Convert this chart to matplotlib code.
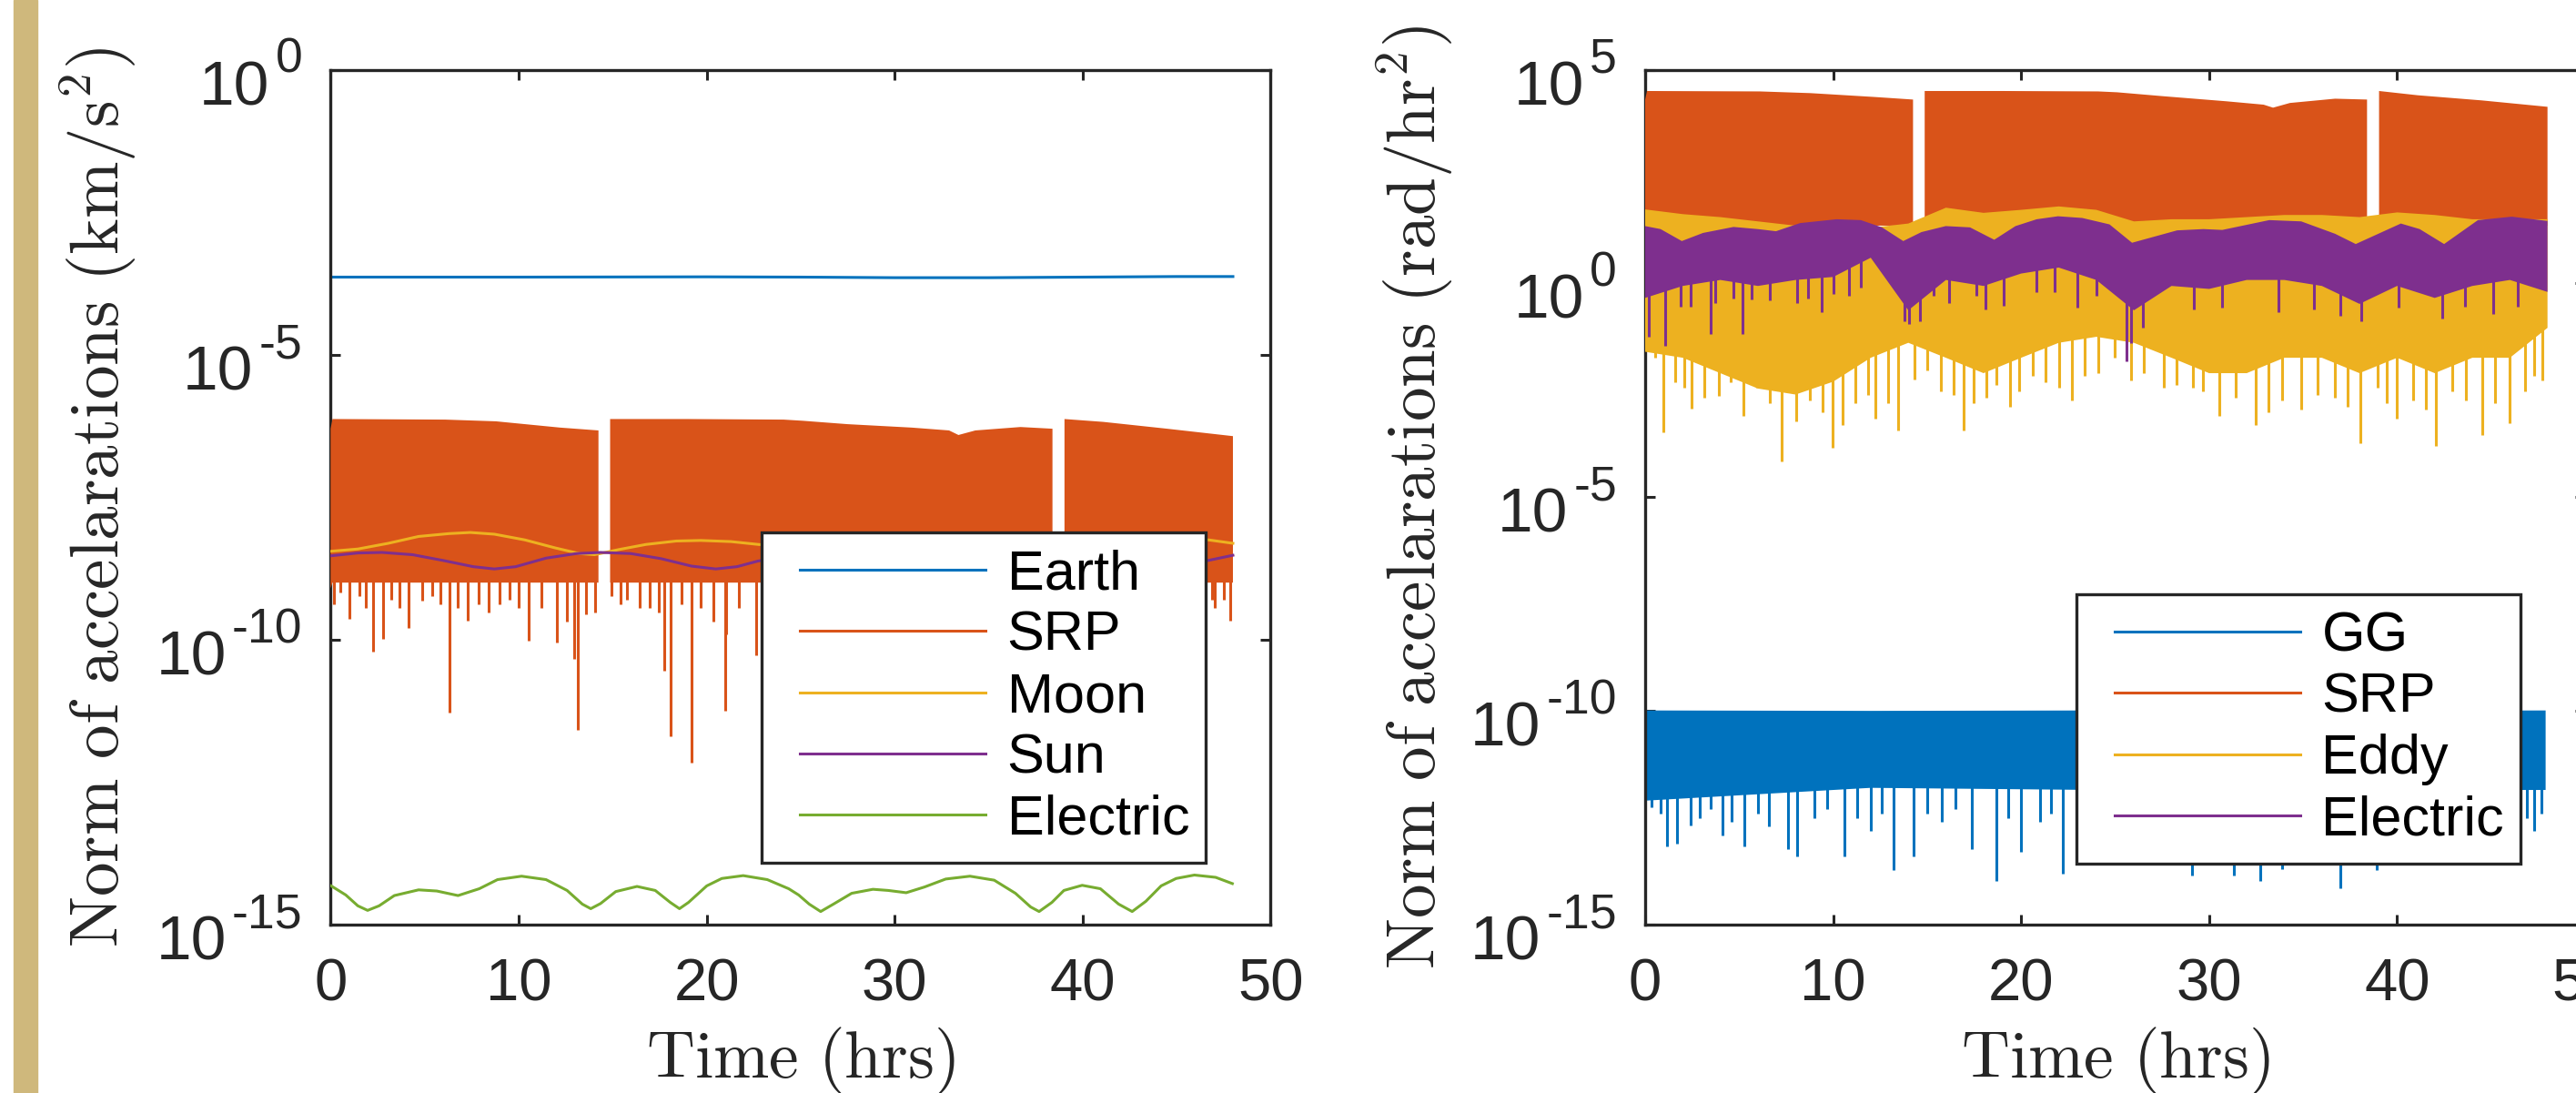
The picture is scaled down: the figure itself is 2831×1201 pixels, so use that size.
import numpy as np
import matplotlib
matplotlib.use("Agg")
import matplotlib.pyplot as plt
from matplotlib.lines import Line2D
from matplotlib.patches import Rectangle
from matplotlib.ticker import FixedLocator, NullFormatter, NullLocator
from matplotlib.legend_handler import HandlerLine2D
from matplotlib.transforms import blended_transform_factory, offset_copy

plt.rcParams['font.family'] = ['Liberation Sans', 'DejaVu Sans']
plt.rcParams['mathtext.fontset'] = 'custom'
plt.rcParams['mathtext.rm'] = 'Liberation Sans'
plt.rcParams['mathtext.it'] = 'Liberation Sans:italic'
plt.rcParams['mathtext.bf'] = 'Liberation Sans:bold'

C_BLUE, C_ORANGE, C_YELLOW, C_PURPLE, C_GREEN = '#0072BD', '#D95319', '#EDB120', '#7E2F8E', '#77AC30'
DARK = '#262626'
nan = np.nan

# ---------------- data (values are log10 of the plotted magnitude) ----------------
# Left panel: translational accelerations (km/s^2)
earth_t = [0, 10, 20, 25, 30, 35, 40, 45, 48]
earth_v = [-3.64, -3.64, -3.635, -3.64, -3.65, -3.65, -3.64, -3.63, -3.63]

srp_t  = [0, 0.1, 6.1, 8.8, 12.2, 14.25, nan, 14.87, 19.0, 24.1, 25.1, 27.5, 30.9, 32.9, 33.4, 34.3, 36.7, 38.4, nan, 39.04, 41.1, 44.5, 48.0]
srp_l_up = [-6.30, -6.13, -6.14, -6.17, -6.28, -6.33, nan, -6.13, -6.13, -6.14, -6.16, -6.22, -6.28, -6.33, -6.41, -6.33, -6.27, -6.30, nan, -6.13, -6.18, -6.30, -6.43]
srp_l_lo = [-9.1, -9.0, -9.0, -9.0, -9.0, -9.0, nan, -9.0, -9.0, -9.0, -9.0, -9.0, -9.0, -9.0, -9.0, -9.0, -9.0, -9.0, nan, -9.0, -9.0, -9.0, -9.0]
srp_l_spk_t = [0.16, 0.50, 1.01, 1.52, 1.86, 2.27, 2.78, 3.22, 3.66, 4.17, 4.85, 5.43, 5.83, 6.31, 6.78,
               7.29, 7.87, 8.41, 8.99, 9.50, 10.01, 10.52, 11.20, 12.05, 12.56, 12.96, 13.17, 13.57, 14.09, 14.93,
               15.44, 15.78, 16.46, 16.97, 17.48, 17.75, 18.09, 18.67, 19.18, 19.69, 20.36, 20.98, 21.05, 21.72, 22.64,
               46.9, 47.02, 47.5, 47.87]
srp_l_spk_v = [-9.38, -9.18, -9.63, -9.24, -9.44, -10.21, -9.99, -9.30, -9.44, -9.79, -9.32, -9.24, -9.38, -11.28, -9.44,
               -9.66, -9.38, -9.53, -9.38, -9.30, -9.44, -10.02, -9.44, -10.05, -9.69, -10.33, -11.59, -9.56, -9.53, -9.24,
               -9.38, -9.30, -9.44, -9.44, -9.53, -10.54, -11.70, -9.38, -12.16, -9.44, -9.69, -11.25, -9.90, -9.44, -10.27,
               -9.3, -9.44, -9.3, -9.66]

moon_t = [0, 1.45, 3.07, 4.68, 6.29, 7.43, 8.71, 10.33, 11.94, 13.23, 14.04, 15.33, 16.78, 18.39, 19.69, 21.30, 22.75,
          25.5, 28.5, 31.5, 34.0, 37.0, 40.0, 43.0, 45.5, 46.7, 48.0]
moon_v = [-8.45, -8.41, -8.31, -8.19, -8.14, -8.12, -8.15, -8.25, -8.39, -8.49, -8.51, -8.42, -8.33, -8.27, -8.26, -8.28, -8.33,
          -8.40, -8.36, -8.28, -8.26, -8.33, -8.40, -8.30, -8.24, -8.25, -8.31]
sun_t = [0, 1.45, 2.74, 4.36, 5.97, 7.59, 8.71, 9.85, 11.46, 13.07, 14.36, 15.97, 17.59, 19.2, 20.49, 21.62, 22.75,
         26.0, 32.0, 38.0, 44.0, 46.7, 48.0]
sun_v = [-8.53, -8.48, -8.47, -8.51, -8.61, -8.72, -8.76, -8.72, -8.57, -8.49, -8.47, -8.49, -8.58, -8.71, -8.76, -8.72, -8.62,
         -8.47, -8.76, -8.47, -8.76, -8.61, -8.52]
elec_t = [0.03, 0.81, 1.45, 1.97, 2.58, 3.39, 4.68, 5.65, 6.78, 7.91, 8.88, 10.16, 11.46, 12.58, 13.39, 13.84, 14.36, 15.17,
          16.30, 17.27, 18.07, 18.56, 19.04, 20.01, 20.81, 21.95, 23.23, 24.37, 24.9, 25.46, 26.07, 26.75, 27.72, 28.85,
          29.66, 30.62, 31.59, 32.72, 34.01, 35.30, 36.43, 37.24, 37.69, 38.37, 39.01, 39.98, 40.95, 41.92, 42.64, 43.37,
          44.18, 44.98, 45.95, 47.08, 47.97]
elec_v = [-14.32, -14.48, -14.67, -14.75, -14.67, -14.49, -14.39, -14.41, -14.49, -14.37, -14.21, -14.15, -14.21, -14.40,
          -14.64, -14.72, -14.63, -14.42, -14.33, -14.40, -14.61, -14.72, -14.61, -14.32, -14.19, -14.14, -14.21, -14.37,
          -14.48, -14.64, -14.77, -14.64, -14.45, -14.38, -14.40, -14.44, -14.34, -14.20, -14.15, -14.22, -14.45, -14.69,
          -14.77, -14.61, -14.40, -14.31, -14.37, -14.64, -14.77, -14.59, -14.32, -14.19, -14.13, -14.17, -14.28]

# Right panel: rotational accelerations (rad/hr^2)
gg_t  = [0, 12, 24, 36, 47.9]
gg_up = [-9.99, -10.0, -9.99, -10.0, -9.99]
gg_lo = [-12.1, -11.8, -11.85, -11.85, -11.85]
gg_spk_t = [0.35, 0.8, 1.17, 1.7, 2.4, 2.9, 3.5, 4.1, 4.6, 5.3, 6.0, 6.6, 7.6, 8.1, 9.0, 9.7, 10.6, 11.3, 12.0, 12.6,
            13.2, 14.3, 15.0, 15.8, 16.5, 17.4, 18.7, 19.3, 20.0, 21.0, 21.6, 22.2, 24.0, 25.5, 27.0, 28.2, 29.1, 30.2,
            31.3, 32.7, 33.9, 35.5, 37.0, 38.9, 40.5, 42.0, 43.5, 45.0, 46.9, 47.3, 47.7]
gg_spk_v = [-12.26, -12.4, -13.16, -13.1, -12.67, -12.5, -12.3, -12.91, -12.6, -13.16, -12.4, -12.7, -13.24, -13.40, -12.5,
            -12.3, -13.4, -12.5, -12.8, -12.4, -13.73, -13.4, -12.4, -12.6, -12.3, -13.24, -13.98, -12.5, -13.3, -12.6,
            -12.4, -13.81, -12.6, -12.5, -12.7, -12.4, -13.84, -12.6, -13.86, -13.97, -13.7, -12.5, -14.14, -13.73, -12.6,
            -12.5, -12.7, -12.5, -12.5, -12.8, -12.4]

srp_r_up = [4.30, 4.50, 4.49, 4.45, 4.36, 4.30, nan, 4.50, 4.50, 4.49, 4.47, 4.38, 4.26, 4.18, 4.11, 4.22, 4.32, 4.30, nan, 4.50, 4.40, 4.28, 4.13]
srp_r_lo = [1.35, 1.35, 1.35, 1.35, 1.35, 1.35, nan, 1.35, 1.35, 1.35, 1.35, 1.35, 1.35, 1.35, 1.35, 1.35, 1.35, 1.35, nan, 1.35, 1.35, 1.35, 1.35]

eddy_t  = [0, 2, 4, 6, 8, 10, 12, 14, 16, 18, 20, 22, 24, 26, 28, 30, 32, 34, 36, 38, 40, 42, 44, 46, 48]
eddy_up = [1.73, 1.62, 1.55, 1.45, 1.35, 1.30, 1.30, 1.40, 1.77, 1.65, 1.72, 1.80, 1.72, 1.45, 1.50, 1.50, 1.55, 1.60,
           1.60, 1.55, 1.66, 1.60, 1.50, 1.50, 1.50]
eddy_lo = [-1.60, -1.74, -2.10, -2.46, -2.60, -2.30, -1.74, -1.39, -1.74, -2.10, -1.74, -1.39, -1.25, -1.39, -1.74, -2.10,
           -2.10, -1.74, -1.74, -2.10, -1.74, -2.10, -1.74, -1.74, -1.04]
eddy_spk_t = [0.53, 0.99, 1.58, 2.10, 2.45, 3.15, 3.92, 4.55, 5.25, 5.94, 6.64, 7.27, 8.04, 8.74, 9.43, 9.96, 10.48,
              11.18, 11.88, 12.23, 12.92, 13.45, 14.32, 15.02, 15.72, 16.42, 16.94, 17.46, 18.16, 18.68, 19.39, 19.91,
              20.61, 21.30, 22.00, 22.70, 23.40, 24.09, 24.97, 25.84, 26.54, 27.59, 28.29, 29.16, 29.68, 30.56, 31.43,
              32.47, 33.17, 33.87, 34.92, 35.79, 36.67, 37.36, 38.06, 38.94, 39.46, 39.98, 40.85, 41.55, 42.07, 42.95,
              43.65, 44.52, 45.22, 45.99, 46.79, 47.31, 47.73]
eddy_spk_v = [-1.74, -3.48, -2.31, -2.45, -2.92, -2.67, -2.63, -2.31, -3.09, -2.45, -2.81, -4.16, -3.23, -2.74, -3.02,
              -3.84, -3.31, -2.81, -2.60, -3.16, -2.81, -3.45, -2.24, -2.03, -2.52, -2.60, -3.45, -2.81, -2.67, -2.38,
              -2.88, -2.52, -2.17, -2.31, -2.45, -2.74, -2.17, -2.10, -1.74, -2.28, -2.10, -2.45, -2.38, -2.45, -2.52,
              -3.09, -2.67, -3.31, -3.02, -2.74, -2.95, -2.60, -2.67, -2.88, -3.73, -2.45, -2.81, -3.16, -2.74, -2.95,
              -3.80, -2.52, -2.74, -3.55, -2.81, -3.27, -2.52, -2.17, -2.28]

el_t  = [0.0, 0.82, 1.95, 3.08, 4.7, 5.99, 6.96, 8.24, 10.18, 11.47, 12.6, 13.73, 14.7, 15.99, 17.28, 18.57, 19.7,
         20.83, 21.96, 23.25, 24.7, 25.9, 28.3, 29.7, 30.7, 33.2, 34.9, 36.7, 37.8, 40.2, 41.2, 42.5, 44.3, 46.1, 48.0]
el_up = [1.34, 1.27, 0.99, 1.18, 1.32, 1.27, 1.22, 1.41, 1.50, 1.48, 1.31, 0.99, 1.20, 1.34, 1.31, 1.02, 1.34, 1.50,
         1.57, 1.53, 1.38, 0.95, 1.24, 1.27, 1.25, 1.48, 1.45, 1.16, 0.92, 1.40, 1.27, 0.92, 1.48, 1.56, 1.46]
el_lo_t = [0, 2, 4, 6, 8, 10, 12, 14, 16, 18, 20, 22, 24, 26, 28, 30, 32, 34, 36, 38, 40, 42, 44, 46, 48]
el_lo = [-0.34, -0.06, 0.08, -0.06, 0.08, 0.15, 0.60, -0.63, 0.08, -0.06, 0.23, 0.37, 0.08, -0.63, -0.06, -0.13, 0.08,
         0.08, -0.06, -0.48, -0.06, -0.34, -0.06, 0.08, -0.20]
el_spk_t = [0.18, 1.06, 1.87, 2.43, 3.48, 3.73, 4.7, 5.18, 5.66, 6.63, 8.08, 8.65, 9.37, 10.02, 10.83, 11.47, 13.81,
            14.05, 14.62, 15.34, 16.15, 17.6, 18.08, 19.05, 20.8, 21.8, 23.0, 24.0, 25.6, 25.84, 26.5, 29.2, 30.7,
            33.7, 35.6, 37.0, 38.1, 40.1, 42.4, 43.6, 45.1, 46.4]
el_spk_v = [-1.25, -1.46, -0.54, -0.54, -1.18, -0.47, -0.35, -1.18, -0.38, -0.40, -0.45, -0.35, -0.67, -0.25, -0.30, -0.1,
            -0.89, -0.96, -0.89, -0.3, -0.45, -0.3, -0.60, -0.53, -0.2, -0.2, -0.57, -0.3, -1.82, -1.39, -1.03, -0.61, -0.57,
            -0.68, -0.61, -0.75, -0.89, -0.57, -0.82, -0.54, -0.72, -0.54]

left_labels = ['Earth', 'SRP', 'Moon', 'Sun', 'Electric']
right_labels = ['GG', 'SRP', 'Eddy', 'Electric']
xticks = [0, 10, 20, 30, 40, 50]
left_yticks = [1e-15, 1e-10, 1e-5, 1e0]
right_yticks = [1e-15, 1e-10, 1e-5, 1e0, 1e5]

# ---------------- helpers ----------------
LW = 2.2
W, H = 2831, 1201


def split_nan(t, *vals):
    t = np.asarray(t, float)
    vals = [np.asarray(v, float) for v in vals]
    idx = np.where(np.isnan(t))[0]
    bounds = [-1] + list(idx) + [len(t)]
    out = []
    for a, b in zip(bounds[:-1], bounds[1:]):
        out.append((t[a + 1:b],) + tuple(v[a + 1:b] for v in vals))
    return out


def band(ax, t_up, up, t_lo, lo, color, z):
    t_up, up, t_lo, lo = map(lambda a: np.asarray(a, float), (t_up, up, t_lo, lo))
    xs = np.concatenate([t_up, t_lo[::-1]])
    ys = np.concatenate([10.0 ** up, 10.0 ** lo[::-1]])
    ax.fill(xs, ys, color=color, lw=0, zorder=z)


def spikes(ax, t, v, top, color, z):
    ax.vlines(t, 10.0 ** np.asarray(v, float), 10.0 ** top, color=color, lw=LW, zorder=z)


def style(ax, yticks, ylim):
    ax.set_yscale('log')
    ax.set_xlim(0, 50)
    ax.set_ylim(*ylim)
    ax.xaxis.set_major_locator(FixedLocator(xticks))
    ax.yaxis.set_major_locator(FixedLocator(yticks))
    ax.yaxis.set_minor_locator(NullLocator())
    ax.yaxis.set_major_formatter(NullFormatter())
    ax.tick_params(which='both', direction='in', top=True, right=True, length=8, width=2.2,
                   labelsize=47, colors=DARK)
    ax.tick_params(axis='x', pad=26)
    for s in ax.spines.values():
        s.set_linewidth(2.4)
        s.set_color(DARK)


fig = plt.figure(figsize=(W / 100, H / 100), dpi=100)
fig.patches.append(Rectangle((15 / W, 0), 26 / W, 1, transform=fig.transFigure, color='#CFB87C', zorder=0))
renderer = fig.canvas.get_renderer()


def ylabels_pow10(ax, yticks):
    base_tr = blended_transform_factory(ax.transAxes, ax.transData)
    for v in yticks:
        e = int(round(np.log10(v)))
        tr_e = offset_copy(base_tr, fig=fig, x=-31, y=-3.5, units='dots')
        te = ax.text(0, v, str(e), transform=tr_e, ha='right', va='baseline', fontsize=38.5,
                     color=DARK, clip_on=False)
        w = te.get_window_extent(renderer).width
        tr_b = offset_copy(base_tr, fig=fig, x=-31 - w - 6, y=-38.5, units='dots')
        ax.text(0, v, '10', transform=tr_b, ha='right', va='baseline', fontsize=50,
                color=DARK, clip_on=False)


ax_b = 1 - 1016 / H
ax_h = 939.5 / H
ax_w = 1033 / W
ax1 = fig.add_axes([363.3 / W, ax_b, ax_w, ax_h])
ax2 = fig.add_axes([1808 / W, ax_b, ax_w, ax_h])

# ---- left panel ----
ax1.plot(earth_t, 10.0 ** np.array(earth_v), color=C_BLUE, lw=LW, zorder=2)
for tt, u, l in split_nan(srp_t, srp_l_up, srp_l_lo):
    band(ax1, tt, u, tt, l, C_ORANGE, 3)
spikes(ax1, srp_l_spk_t, srp_l_spk_v, -7.5, C_ORANGE, 3)
ax1.plot(moon_t, 10.0 ** np.array(moon_v), color=C_YELLOW, lw=LW, zorder=4)
ax1.plot(sun_t, 10.0 ** np.array(sun_v), color=C_PURPLE, lw=LW, zorder=4)
ax1.plot(elec_t, 10.0 ** np.array(elec_v), color=C_GREEN, lw=LW, zorder=4)
style(ax1, left_yticks, (1e-15, 1e0))

# ---- right panel ----
band(ax2, gg_t, gg_up, gg_t, gg_lo, C_BLUE, 2)
spikes(ax2, gg_spk_t, gg_spk_v, -11.0, C_BLUE, 2)
for tt, u, l in split_nan(srp_t, srp_r_up, srp_r_lo):
    band(ax2, tt, u, tt, l, C_ORANGE, 3)
band(ax2, eddy_t, eddy_up, eddy_t, eddy_lo, C_YELLOW, 4)
spikes(ax2, eddy_spk_t, eddy_spk_v, 0.0, C_YELLOW, 4)
band(ax2, el_t, el_up, el_lo_t, el_lo, C_PURPLE, 5)
spikes(ax2, el_spk_t, el_spk_v, 0.9, C_PURPLE, 5)
style(ax2, right_yticks, (1e-15, 1e5))

ylabels_pow10(ax1, left_yticks)
ylabels_pow10(ax2, right_yticks)

# ---- labels ----
for ax, unit, xc in ((ax1, 'km/s^2', -0.2471), (ax2, 'rad/hr^2', -0.2449)):
    ax.set_ylabel(r'$\mathrm{Norm\ of\ accelarations\ (%s)}$' % unit, fontsize=54,
                  math_fontfamily='cm', color=DARK)
    ax.yaxis.label.set_va('center')
    ax.yaxis.set_label_coords(xc, 0.5)
    ax.set_xlabel(r'$\mathrm{Time\ (hrs)}$', fontsize=53, math_fontfamily='cm', color=DARK)
    ax.xaxis.label.set_va('baseline')
    ax.xaxis.set_label_coords(0.5, -0.1788)


# ---- legends ----
def make_legend(ax, colors, labels, x0, y0):
    handles = [Line2D([], [], color=c, lw=LW) for c in colors]
    leg = ax.legend(handles, labels, loc='upper left', bbox_to_anchor=(x0 / W, 1 - y0 / H),
                    bbox_transform=fig.transFigure, borderaxespad=0, fontsize=44,
                    handlelength=3.72, handletextpad=0.39, labelspacing=0.17, borderpad=0.3,
                    handler_map={Line2D: HandlerLine2D(xpad=0.38)},
                    frameon=True, fancybox=False, framealpha=1, edgecolor=DARK)
    leg.get_frame().set_linewidth(2.4)
    leg.set_zorder(10)
    return leg


make_legend(ax1, [C_BLUE, C_ORANGE, C_YELLOW, C_PURPLE, C_GREEN], left_labels, 837, 585)
make_legend(ax2, [C_BLUE, C_ORANGE, C_YELLOW, C_PURPLE], right_labels, 2282, 653)

fig.savefig('out.png', dpi=100)
